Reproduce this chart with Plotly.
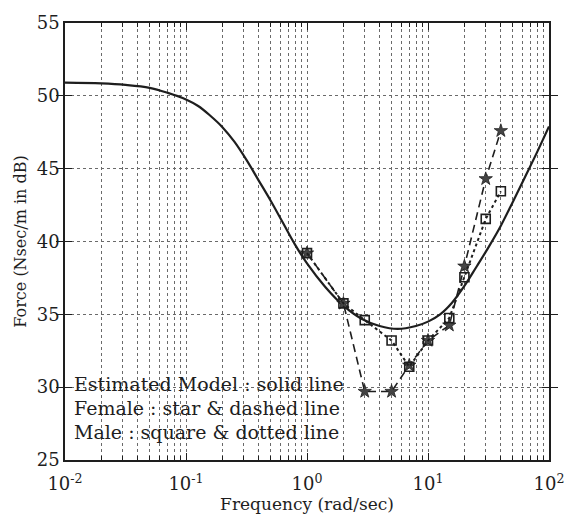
import plotly.graph_objects as go

# ---- data ----
freq_meas = [1, 2, 3, 5, 7, 10, 15, 20, 30, 40]
female_db = [39.2, 35.75, 29.7, 29.7, 31.5, 33.2, 34.25, 38.3, 44.3, 47.6]
male_db = [39.2, 35.75, 34.6, 33.2, 31.4, 33.2, 34.75, 37.55, 41.55, 43.45]

model_freq = [0.01, 0.02, 0.0316, 0.05, 0.0708, 0.1, 0.126, 0.158, 0.2,
              0.251, 0.316, 0.398, 0.501, 0.631, 0.794, 1.0, 1.41, 2.0,
              2.82, 3.98, 5.62, 7.94, 10.0, 12.6, 15.8, 20.0, 25.1, 31.6,
              39.8, 50.1, 63.1, 79.4, 100.0]
model_db = [50.9, 50.85, 50.75, 50.55, 50.2, 49.75, 49.3, 48.65, 47.85,
            46.85, 45.6, 44.2, 42.8, 41.3, 39.8, 38.5, 36.9, 35.6,
            34.7, 34.2, 34.0, 34.2, 34.5, 35.0, 35.8, 36.95, 38.25, 39.6,
            41.05, 42.7, 44.4, 46.1, 47.9]

x_tickvals = [0.01, 0.1, 1, 10, 100]
x_ticktext = ["10<sup>-2</sup>", "10<sup>-1</sup>", "10<sup>0</sup>",
              "10<sup>1</sup>", "10<sup>2</sup>"]
x_minor_vals = [m * d for d in (0.01, 0.1, 1, 10) for m in range(2, 10)]
y_tickvals = [25, 30, 35, 40, 45, 50, 55]

legend_lines = ["Estimated Model : solid line",
                "Female : star & dashed line",
                "Male : square & dotted line"]

FONT = "DejaVu Serif"
INK = "#1e1e1e"
GRID = "#6a6a6a"

fig = go.Figure()

# minor-grid helper axis (no data, only ticks/grid)
fig.add_trace(go.Scatter(x=[0.01, 100], y=[25, 25], mode="lines",
                         line=dict(width=0), xaxis="x2",
                         showlegend=False, hoverinfo="skip"))

fig.add_trace(go.Scatter(
    x=model_freq, y=model_db, mode="lines",
    line=dict(color=INK, width=2.2, shape="spline", smoothing=1.0),
    showlegend=False, hoverinfo="skip"))

fig.add_trace(go.Scatter(
    x=freq_meas, y=female_db, mode="lines+markers",
    line=dict(color=INK, width=1.6, dash="8px,5px"),
    marker=dict(symbol="star", size=10, color="#444444",
                line=dict(color=INK, width=0.8)),
    showlegend=False))

fig.add_trace(go.Scatter(
    x=freq_meas, y=male_db, mode="lines+markers",
    line=dict(color=INK, width=2, dash="dot"),
    marker=dict(symbol="square-open", size=9, color=INK,
                line=dict(color=INK, width=1.6)),
    showlegend=False))

for i, txt in enumerate(legend_lines):
    fig.add_annotation(
        xref="paper", yref="paper", x=0.015, y=0.173 - i * 0.055,
        xanchor="left", yanchor="middle", text=txt, showarrow=False,
        font=dict(family=FONT, size=19, color=INK))

fig.update_layout(
    width=576, height=523,
    margin=dict(l=65, r=17, t=16, b=63),
    paper_bgcolor="white", plot_bgcolor="white",
    font=dict(family=FONT, size=18, color=INK),
    showlegend=False,
    xaxis=dict(
        type="log", range=[-2, 2],
        tickvals=x_tickvals, ticktext=x_ticktext,
        ticks="inside", ticklen=7, tickcolor=INK,
        ticklabelstandoff=7,
        showline=True, linecolor=INK, linewidth=1.5, mirror="allticks",
        showgrid=True, gridcolor=GRID, griddash="dot", gridwidth=1,
        zeroline=False,
        title=dict(text="Frequency (rad/sec)",
                   font=dict(family=FONT, size=17), standoff=3),
        tickfont=dict(family=FONT, size=18),
    ),
    xaxis2=dict(
        type="log", range=[-2, 2], overlaying="x", side="bottom",
        tickvals=x_minor_vals, showticklabels=False,
        ticks="inside", ticklen=4, tickcolor=INK, mirror="allticks",
        showline=False,
        showgrid=True, gridcolor=GRID, griddash="dot", gridwidth=1,
        zeroline=False,
    ),
    yaxis=dict(
        range=[25, 55], tickvals=y_tickvals,
        ticks="inside", ticklen=7, tickcolor=INK,
        showline=True, linecolor=INK, linewidth=1.5, mirror="allticks",
        showgrid=True, gridcolor=GRID, griddash="dot", gridwidth=1,
        zeroline=False,
        title=dict(text="Force (Nsec/m in dB)",
                   font=dict(family=FONT, size=16), standoff=6),
        tickfont=dict(family=FONT, size=18),
    ),
)

fig.write_html("out.html")
